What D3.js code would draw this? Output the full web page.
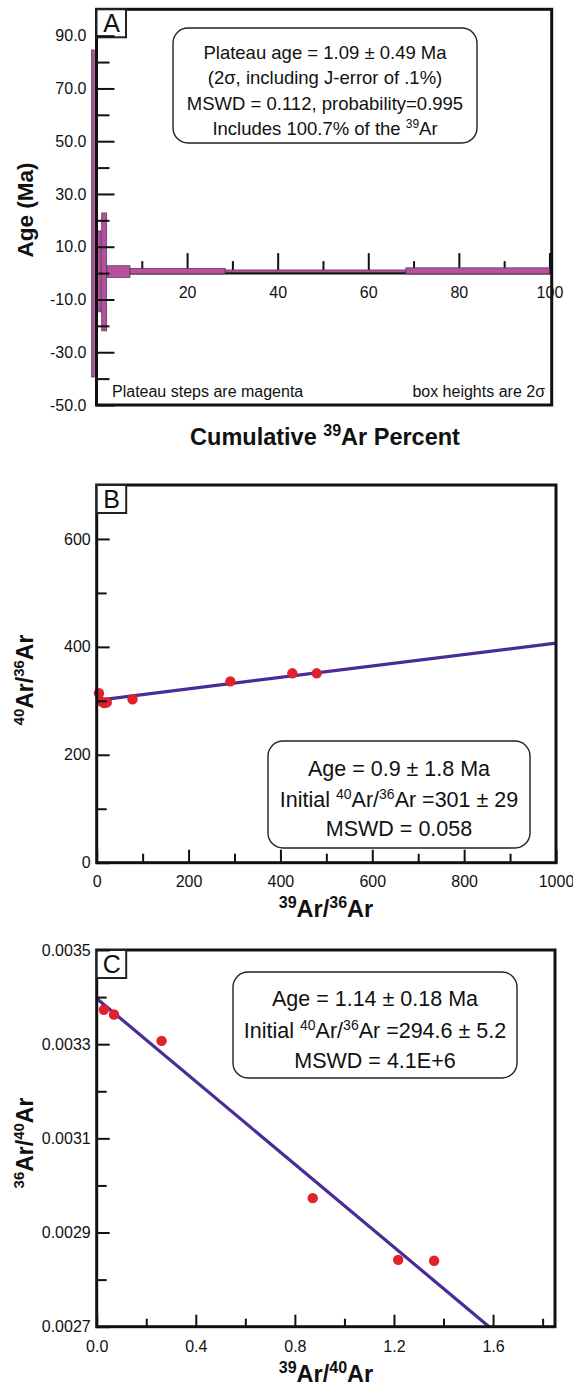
<!DOCTYPE html>
<html>
<head>
<meta charset="utf-8">
<script src="https://cdn.jsdelivr.net/npm/d3@7"></script>
<style>
body { margin: 0; background: #fff; }
svg text { font-family: "Liberation Sans", Arial, sans-serif; fill: #111; }
</style>
</head>
<body>
<svg id="chart" width="573" height="1387"></svg>
<script>
// A: age spectrum steps (cumulative 39Ar %, age range in Ma)
const stepCumStart = [-1.1, 0.0, 1.15, 2.3, 7.4, 28.4, 68.3];
const stepCumEnd   = [-0.5, 1.0, 2.25, 7.4, 28.4, 68.3, 100.0];
const stepAgeLow   = [-39.4, -14.7, -21.9, -1.7, -0.3, 0.3, -0.3];
const stepAgeHigh  = [84.6, 16.0, 22.8, 2.8, 1.8, 1.2, 2.0];
const ageTicks = [-50, -30, -10, 10, 30, 50, 70, 90];
const ageMinor = [-40, -20, 0, 20, 40, 60, 80];
const cumTicks = [20, 40, 60, 80, 100];
const cumMinor = [10, 30, 50, 70, 90];

// B: normal isochron
const ptsB_x = [5, 10, 16, 22, 78, 291, 426, 479];
const ptsB_y = [314, 299, 296, 297, 303, 336, 351, 351];
const fitB_x = [0, 1000];
const fitB_y = [301, 407];
const bTicksX = [0, 200, 400, 600, 800, 1000];
const bMinorX = [100, 300, 500, 700, 900];
const bTicksY = [0, 200, 400, 600];
const bMinorY = [100, 300, 500];

// C: inverse isochron
const ptsC_x = [0.029, 0.070, 0.262, 0.872, 1.217, 1.362];
const ptsC_y = [0.003373, 0.003363, 0.003307, 0.002973, 0.002842, 0.002840];
const fitC_x = [0, 1.584];
const fitC_y = [0.003397, 0.0027];
const cTicksX = [0, 0.4, 0.8, 1.2, 1.6];
const cMinorX = [0.2, 0.6, 1.0, 1.4, 1.8];
const cTicksY = [0.0027, 0.0029, 0.0031, 0.0033, 0.0035];
const cMinorY = [0.0028, 0.0030, 0.0032, 0.0034];

const magenta = '#b8509f';
const fitColor = '#4a2c98';
const dotColor = '#e0222b';
const tickFont = 16;

const svg = d3.select('#chart');
svg.append('rect').attr('width', 573).attr('height', 1387).attr('fill', '#fff');

// text with superscripts: parts = strings, or [string] for superscript
function richText(g, x, y, parts, size, anchor, weight, rotate) {
    const t = g.append('text')
        .attr('text-anchor', anchor || 'middle')
        .style('font-size', size + 'px')
        .style('font-weight', weight || 'normal');
    if (rotate) t.attr('transform', 'translate(' + x + ',' + y + ') rotate(-90)');
    else t.attr('x', x).attr('y', y);
    const shift = Math.round(size * 0.38);
    let up = false;
    parts.forEach(p => {
        const sp = t.append('tspan');
        if (Array.isArray(p)) {
            sp.text(p[0]).style('font-size', Math.round(size * 0.66) + 'px');
            if (!up) sp.attr('dy', -shift);
            up = true;
        } else {
            sp.text(p);
            if (up) sp.attr('dy', shift);
            up = false;
        }
    });
    return t;
}

function styleAxis(sel) {
    sel.attr('font-size', null).attr('font-family', null);
    sel.select('.domain').remove();
    sel.selectAll('line').attr('stroke', '#111').attr('stroke-width', 2);
    sel.selectAll('text').style('font-size', tickFont + 'px');
}

function leftTicks(g, y, x0, major, minor, fmt, majLen, minLen, pad) {
    g.append('g').attr('transform', 'translate(' + x0 + ',0)')
        .call(d3.axisLeft(y).tickValues(minor).tickSizeInner(-minLen).tickSizeOuter(0).tickFormat(''))
        .call(styleAxis);
    g.append('g').attr('transform', 'translate(' + x0 + ',0)')
        .call(d3.axisLeft(y).tickValues(major).tickSizeInner(-majLen).tickSizeOuter(0).tickPadding(pad).tickFormat(fmt))
        .call(styleAxis);
}

function bottomTicks(g, x, y0, major, minor, fmt, majLen, minLen, pad) {
    g.append('g').attr('transform', 'translate(0,' + y0 + ')')
        .call(d3.axisBottom(x).tickValues(minor).tickSizeInner(-minLen).tickSizeOuter(0).tickFormat(''))
        .call(styleAxis);
    g.append('g').attr('transform', 'translate(0,' + y0 + ')')
        .call(d3.axisBottom(x).tickValues(major).tickSizeInner(-majLen).tickSizeOuter(0).tickPadding(pad).tickFormat(fmt))
        .call(styleAxis);
}

function frame(g, x, y, letter) {
    const [x0, x1] = x.range();
    const [y1, y0] = y.range();
    g.append('rect').attr('x', x0).attr('y', y0).attr('width', x1 - x0).attr('height', y1 - y0)
        .attr('fill', 'none').attr('stroke', '#111').attr('stroke-width', 3);
    g.append('rect').attr('x', x0).attr('y', y0).attr('width', 29.5).attr('height', 28)
        .attr('fill', '#fff').attr('stroke', '#222').attr('stroke-width', 2);
    g.append('text').attr('x', x0 + 15).attr('y', y0 + 23).attr('text-anchor', 'middle')
        .style('font-size', '25px').text(letter);
}

function statBox(g, x0, y0, x1, y1, lines, size, cx, baselines) {
    g.append('rect').attr('x', x0).attr('y', y0).attr('width', x1 - x0).attr('height', y1 - y0)
        .attr('rx', 15).attr('ry', 15).attr('fill', '#fff').attr('stroke', '#222').attr('stroke-width', 1.4);
    lines.forEach((parts, i) => richText(g, cx, baselines[i], parts, size, 'middle'));
}

// ---------- Panel A ----------
const gA = svg.append('g');
const xA = d3.scaleLinear().domain([0, 100.5]).range([96.5, 551.7]);
const yA = d3.scaleLinear().domain([-50, 100]).range([405, 9.3]);

gA.append('line').attr('x1', xA.range()[0]).attr('x2', xA.range()[1])
    .attr('y1', yA(0)).attr('y2', yA(0)).attr('stroke', '#111').attr('stroke-width', 3);
bottomTicks(gA, xA, yA(0), cumTicks, cumMinor, d => d, 20, 12, 14);

gA.selectAll('rect.step').data(d3.range(stepCumStart.length)).join('rect')
    .attr('class', 'step')
    .attr('x', i => xA(stepCumStart[i]))
    .attr('width', i => xA(stepCumEnd[i]) - xA(stepCumStart[i]))
    .attr('y', i => yA(stepAgeHigh[i]))
    .attr('height', i => yA(stepAgeLow[i]) - yA(stepAgeHigh[i]))
    .attr('fill', magenta).attr('stroke', '#4a3552').attr('stroke-width', 0.7);

frame(gA, xA, yA, 'A');
leftTicks(gA, yA, xA.range()[0], ageTicks, ageMinor, d => d.toFixed(1), 18, 13, 10);

statBox(gA, 173, 28, 477, 143, [
    ['Plateau age = 1.09 \u00b1 0.49 Ma'],
    ['(2\u03c3, including J-error of .1%)'],
    ['MSWD = 0.112, probability=0.995'],
    ['Includes 100.7% of the ', ['39'], 'Ar']
], 18.5, 325, [58.5, 84, 109.5, 135]);

gA.append('text').attr('x', 112).attr('y', 397).style('font-size', '16px').text('Plateau steps are magenta');
gA.append('text').attr('x', 545).attr('y', 397).attr('text-anchor', 'end').style('font-size', '16px')
    .text('box heights are 2\u03c3');

richText(gA, 33, 210, ['Age (Ma)'], 22.5, 'middle', 'bold', true);
richText(gA, 325, 445, ['Cumulative ', ['39'], 'Ar Percent'], 23.5, 'middle', 'bold');

// ---------- Panel B ----------
const gB = svg.append('g');
const xB = d3.scaleLinear().domain([0, 1000]).range([96.7, 556]);
const yB = d3.scaleLinear().domain([0, 700]).range([862.7, 485]);

gB.append('path')
    .datum(d3.range(fitB_x.length))
    .attr('d', d3.line().x(i => xB(fitB_x[i])).y(i => yB(fitB_y[i])))
    .attr('fill', 'none').attr('stroke', fitColor).attr('stroke-width', 3.2);
gB.selectAll('circle').data(d3.range(ptsB_x.length)).join('circle')
    .attr('cx', i => xB(ptsB_x[i])).attr('cy', i => yB(ptsB_y[i])).attr('r', 5.2)
    .attr('fill', dotColor);

frame(gB, xB, yB, 'B');
leftTicks(gB, yB, xB.range()[0], bTicksY, bMinorY, d => d, 13, 10, 6);
bottomTicks(gB, xB, yB.range()[0], bTicksX, bMinorX, d => d, 13, 9, 13);

statBox(gB, 268, 741, 530, 848, [
    ['Age = 0.9 \u00b1 1.8 Ma'],
    ['Initial ', ['40'], 'Ar/', ['36'], 'Ar =301 \u00b1 29'],
    ['MSWD = 0.058']
], 21.5, 399, [776, 806.5, 835.5]);

richText(gB, 33, 680, [['40'], 'Ar/', ['36'], 'Ar'], 23, 'middle', 'bold', true);
richText(gB, 326, 917, [['39'], 'Ar/', ['36'], 'Ar'], 23.5, 'middle', 'bold');

// ---------- Panel C ----------
const gC = svg.append('g');
const xC = d3.scaleLinear().domain([0, 1.85]).range([96.7, 555]);
const yC = d3.scaleLinear().domain([0.0027, 0.0035]).range([1326.7, 950]);

gC.append('path')
    .datum(d3.range(fitC_x.length))
    .attr('d', d3.line().x(i => xC(fitC_x[i])).y(i => yC(fitC_y[i])))
    .attr('fill', 'none').attr('stroke', fitColor).attr('stroke-width', 3.2);
gC.selectAll('circle').data(d3.range(ptsC_x.length)).join('circle')
    .attr('cx', i => xC(ptsC_x[i])).attr('cy', i => yC(ptsC_y[i])).attr('r', 5.2)
    .attr('fill', dotColor);

frame(gC, xC, yC, 'C');
leftTicks(gC, yC, xC.range()[0], cTicksY, cMinorY, d => d.toFixed(4), 13, 10, 6);
bottomTicks(gC, xC, yC.range()[0], cTicksX, cMinorX, d => d.toFixed(1), 12, 8, 14);

statBox(gC, 233, 972, 517, 1078, [
    ['Age = 1.14 \u00b1 0.18 Ma'],
    ['Initial ', ['40'], 'Ar/', ['36'], 'Ar =294.6 \u00b1 5.2'],
    ['MSWD = 4.1E+6']
], 21.5, 375, [1005.5, 1037.5, 1067.5]);

richText(gC, 33, 1143, [['36'], 'Ar/', ['40'], 'Ar'], 23, 'middle', 'bold', true);
richText(gC, 326, 1382, [['39'], 'Ar/', ['40'], 'Ar'], 23.5, 'middle', 'bold');
</script>
</body>
</html>
